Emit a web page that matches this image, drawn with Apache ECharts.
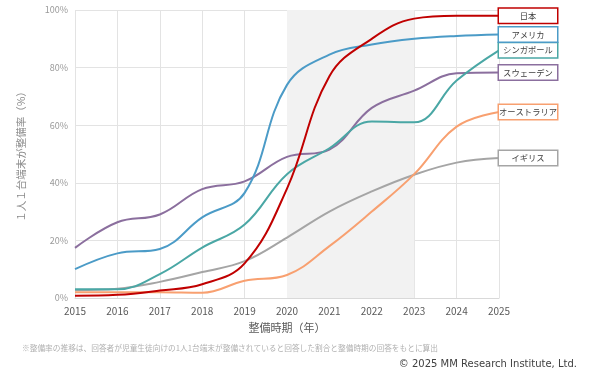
<!DOCTYPE html>
<html>
<head>
<meta charset="utf-8">
<script src="https://cdn.jsdelivr.net/npm/echarts@6/dist/echarts.min.js"></script>
<style>
  html, body { margin: 0; padding: 0; background: #fff; }
  #main { width: 590px; height: 376px; }
</style>
</head>
<body>
<div id="main"></div>
<script>
  // 整備時期
  var years = ['2015', '2016', '2017', '2018', '2019', '2020', '2021', '2022', '2023', '2024', '2025']
  // 整備率 (%)
  var japan = [0.8, 1.1, 2.6, 4.8, 12, 38, 77, 90, 97, 98, 98]
  var usa = [10, 15.5, 17, 28, 36.5, 74, 84.5, 88, 90, 91, 91.5]
  var singapore = [3, 3, 8.3, 17.5, 25.5, 43, 52, 61.3, 61, 75.5, 86]
  var sweden = [17.4, 26.3, 29, 37.8, 40.5, 49, 51.5, 66, 72, 78, 78.3]
  var australia = [2, 2, 2, 1.8, 6, 8, 18, 30, 43, 59.5, 64.6]
  var uk = [2.7, 3.2, 5.6, 9, 12.8, 21, 30, 37, 42.8, 47, 48.6]
  var yTicks = [0, 20, 40, 60, 80, 100]

  var FONT = '"Noto Sans CJK JP", "Noto Sans", sans-serif'
  var chart = echarts.init(document.getElementById('main'))

  function line(name, data, color) {
    return {
      name: name,
      type: 'line',
      data: data,
      smooth: 0.4,
      symbol: 'none',
      lineStyle: { color: color, width: 2 },
      itemStyle: { color: color },
      endLabel: {
        show: true,
        formatter: '{a|' + name + '}',
        distance: 0,
        align: 'left',
        backgroundColor: '#fff',
        borderColor: color,
        borderWidth: 1.5,
        padding: [1, 0, 1, 0],
        rich: {
          a: {
            width: 58,
            align: 'center',
            fontFamily: FONT,
            fontSize: 8.3,
            lineHeight: 12,
            color: '#404040'
          }
        }
      }
    }
  }

  chart.setOption({
    animation: false,
    grid: { left: 75, right: 91, top: 10, bottom: 78 },
    xAxis: {
      type: 'category',
      data: years,
      boundaryGap: false,
      name: '整備時期（年）',
      nameLocation: 'middle',
      nameGap: 24,
      nameTextStyle: { fontFamily: FONT, fontSize: 11, color: '#595959' },
      axisLine: { lineStyle: { color: '#d9d9d9' } },
      axisTick: { show: false },
      axisLabel: { fontFamily: FONT, fontSize: 10, color: '#595959', margin: 8 },
      splitLine: { show: true, lineStyle: { color: '#e3e3e3' } }
    },
    yAxis: {
      type: 'value',
      min: 0,
      max: 100,
      interval: 20,
      name: '１人１台端末が整備率（%）',
      nameLocation: 'middle',
      nameRotate: 90,
      nameGap: 49,
      nameTextStyle: { fontFamily: FONT, fontSize: 10.5, color: '#8c8c8c' },
      axisLine: { show: false },
      axisTick: { show: false },
      axisLabel: {
        fontFamily: FONT, fontSize: 9, color: '#9a9a9a', margin: 7,
        formatter: function (v) { return yTicks.indexOf(v) >= 0 ? v + '%' : '' }
      },
      splitLine: { lineStyle: { color: '#e3e3e3' } }
    },
    series: [
      {
        type: 'line',
        data: [],
        silent: true,
        markArea: {
          silent: true,
          itemStyle: { color: '#f2f2f2' },
          data: [[{ xAxis: '2020' }, { xAxis: '2023' }]]
        }
      },
      line('イギリス', uk, '#a5a5a5'),
      line('オーストラリア', australia, '#f8a070'),
      line('スウェーデン', sweden, '#8b6f9e'),
      line('シンガポール', singapore, '#4aa7a5'),
      line('アメリカ', usa, '#4b9bc7'),
      line('日本', japan, '#c00000')
    ],
    graphic: [
      {
        type: 'text', left: 22, top: 344,
        style: {
          text: '※整備率の推移は、回答者が児童生徒向けの1人1台端末が整備されていると回答した割合と整備時期の回答をもとに算出',
          font: '7.7px ' + FONT, fill: '#b0b0b0'
        }
      },
      {
        type: 'text', right: 13, top: 359,
        style: {
          text: '© 2025 MM Research Institute, Ltd.',
          font: '10px "DejaVu Sans", sans-serif', fill: '#404040'
        }
      }
    ]
  })
</script>
</body>
</html>
